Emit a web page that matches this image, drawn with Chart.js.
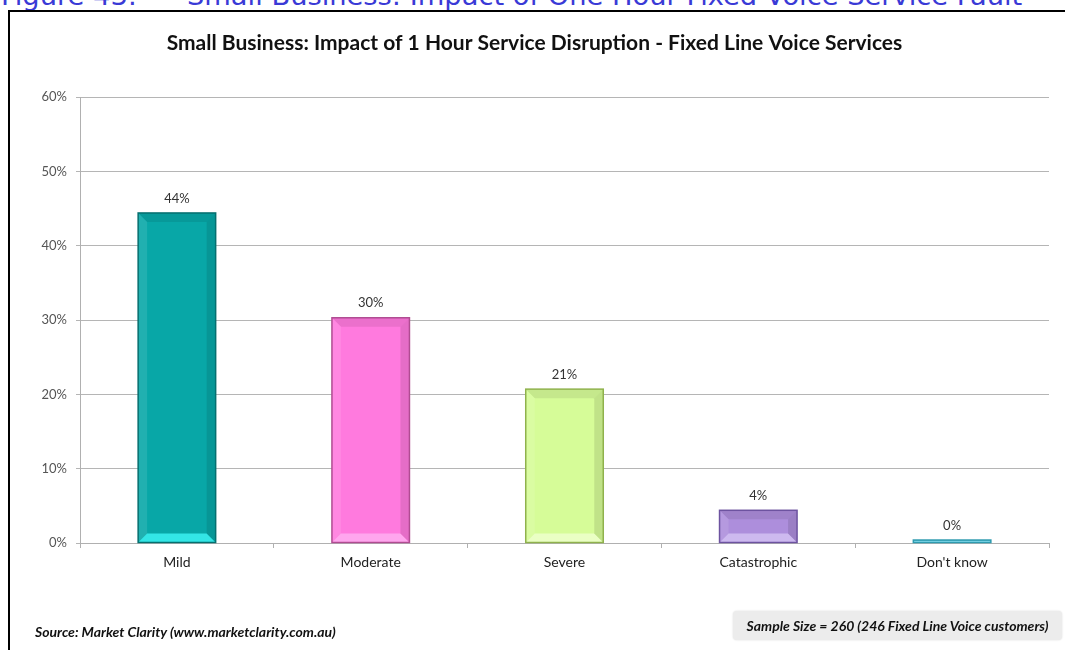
<!DOCTYPE html>
<html lang="en">

<head>
    <meta charset="UTF-8">
    <title>Small Business: Impact of 1 Hour Service Disruption</title>
    <style>
        body {
            margin: 0;
            padding: 0;
            background: #fff;
            width: 1065px;
            height: 650px;
            overflow: hidden;
            position: relative;
            font-family: Lato, "Open Sans", Arial, sans-serif;
        }

        #caption {
            position: absolute;
            left: 1px;
            top: -20px;
            white-space: pre;
            font-family: "DejaVu Sans", Verdana, sans-serif;
            font-size: 27.3px;
            line-height: 31px;
            color: #3a3ad6;
        }

        #caption span {
            margin-left: 50px;
        }

        #frame {
            position: absolute;
            left: 8px;
            top: 10px;
            width: 1100px;
            height: 700px;
            border: 2px solid #000;
        }

        #chartBox {
            position: absolute;
            left: 0;
            top: 0;
            width: 1065px;
            height: 650px;
        }

        #source {
            position: absolute;
            left: 35px;
            top: 623px;
            font-size: 14px;
            font-weight: bold;
            font-style: italic;
            color: #111;
        }

        #sample {
            position: absolute;
            left: 733px;
            top: 611px;
            width: 329px;
            height: 29px;
            line-height: 29px;
            background: #ececec;
            border-radius: 4px;
            box-shadow: 0 0 2px rgba(0, 0, 0, 0.15);
            text-align: center;
            font-size: 14px;
            font-weight: bold;
            font-style: italic;
            color: #111;
        }
    </style>
</head>

<body>
    <div id="caption">Figure 43:<span>Small Business: Impact of One Hour Fixed Voice Service Fault</span></div>
    <div id="frame"></div>
    <div id="chartBox"><canvas id="impactChart" width="1065" height="650"></canvas></div>
    <div id="source">Source: Market Clarity (www.marketclarity.com.au)</div>
    <div id="sample">Sample Size = 260 (246 Fixed Line Voice customers)</div>

    <script src="https://cdn.jsdelivr.net/npm/chart.js"></script>

    <script>
        // chart data
        const categories = ['Mild', 'Moderate', 'Severe', 'Catastrophic', "Don't know"];
        const impactPct = [44.4, 30.3, 20.7, 4.4, 0.4];
        const yTicks = [0, 10, 20, 30, 40, 50, 60];

        const fillColors = ['#08a7a7', '#ff7ade', '#d6fc98', '#ad8edc', '#5ccde4'];
        const edgeColors = ['#056f6f', '#b04c92', '#8fb24c', '#6d53a0', '#2f9bb0'];
        const lightColors = ['#33e6e6', '#ffa6ee', '#eaffc4', '#cdb9ef', '#9ae8f5'];

        // simple bevel look like the original office chart
        const bevelPlugin = {
            id: 'bevel',
            afterDatasetsDraw(chart) {
                const ctx = chart.ctx;
                const meta = chart.getDatasetMeta(0);
                meta.data.forEach((bar, i) => {
                    const l = bar.x - bar.width / 2;
                    const r = bar.x + bar.width / 2;
                    const t = bar.y;
                    const b = bar.base;
                    const h = b - t;
                    const bv = Math.min(9, h / 2);
                    ctx.save();
                    // top bevel, a bit darker
                    ctx.fillStyle = 'rgba(0,0,0,0.08)';
                    ctx.beginPath();
                    ctx.moveTo(l, t); ctx.lineTo(r, t);
                    ctx.lineTo(r - bv, t + bv); ctx.lineTo(l + bv, t + bv);
                    ctx.closePath(); ctx.fill();
                    // bottom bevel, light
                    ctx.fillStyle = lightColors[i];
                    ctx.beginPath();
                    ctx.moveTo(l, b); ctx.lineTo(r, b);
                    ctx.lineTo(r - bv, b - bv); ctx.lineTo(l + bv, b - bv);
                    ctx.closePath(); ctx.fill();
                    // side bevels
                    ctx.fillStyle = 'rgba(255,255,255,0.1)';
                    ctx.beginPath();
                    ctx.moveTo(l, t); ctx.lineTo(l + bv, t + bv);
                    ctx.lineTo(l + bv, b - bv); ctx.lineTo(l, b);
                    ctx.closePath(); ctx.fill();
                    ctx.fillStyle = 'rgba(0,0,0,0.1)';
                    ctx.beginPath();
                    ctx.moveTo(r, t); ctx.lineTo(r - bv, t + bv);
                    ctx.lineTo(r - bv, b - bv); ctx.lineTo(r, b);
                    ctx.closePath(); ctx.fill();
                    // outline
                    ctx.strokeStyle = edgeColors[i];
                    ctx.lineWidth = 1.5;
                    ctx.strokeRect(l, t, r - l, h);
                    ctx.restore();
                });
            }
        };

        // value labels above the bars
        const valueLabels = {
            id: 'valueLabels',
            afterDatasetsDraw(chart) {
                const ctx = chart.ctx;
                const meta = chart.getDatasetMeta(0);
                ctx.save();
                ctx.font = '13px Lato, "Open Sans", sans-serif';
                ctx.fillStyle = '#333';
                ctx.textAlign = 'center';
                ctx.textBaseline = 'bottom';
                meta.data.forEach((bar, i) => {
                    ctx.fillText(Math.round(impactPct[i]) + '%', bar.x, bar.y - 8);
                });
                ctx.restore();
            }
        };

        const ctx = document.getElementById('impactChart').getContext('2d');
        const impactChart = new Chart(ctx, {
            type: 'bar',
            data: {
                labels: categories,
                datasets: [{
                    data: impactPct,
                    backgroundColor: fillColors,
                    borderWidth: 0,
                    barPercentage: 0.4,
                    categoryPercentage: 1.0
                }]
            },
            options: {
                responsive: false,
                animation: false,
                layout: {
                    padding: { left: 20, right: 16, top: 26, bottom: 60 }
                },
                scales: {
                    x: {
                        afterFit: s => { s.height = 47; },
                        grid: {
                            display: true,
                            drawOnChartArea: false,
                            tickLength: 5,
                            color: '#b0b0b0'
                        },
                        border: { color: '#b0b0b0' },
                        ticks: {
                            padding: 6,
                            color: '#222',
                            font: { family: 'Lato, "Open Sans", sans-serif', size: 14 }
                        }
                    },
                    y: {
                        min: 0,
                        max: 60,
                        afterFit: s => { s.width = 60; },
                        afterBuildTicks: s => { s.ticks = yTicks.map(v => ({ value: v })); },
                        grid: {
                            color: '#b5b5b5',
                            tickLength: 4
                        },
                        border: { color: '#b0b0b0' },
                        ticks: {
                            padding: 9,
                            color: '#555',
                            font: { family: 'Lato, "Open Sans", sans-serif', size: 13 },
                            callback: v => v + '%'
                        }
                    }
                },
                plugins: {
                    legend: { display: false },
                    tooltip: { enabled: false },
                    title: {
                        display: true,
                        text: 'Small Business: Impact of 1 Hour Service Disruption - Fixed Line Voice Services',
                        color: '#111',
                        font: { family: 'Lato, "Open Sans", sans-serif', size: 21, weight: 'bold', lineHeight: 1.2 },
                        padding: { top: 5, bottom: 40.8 }
                    }
                }
            },
            plugins: [bevelPlugin, valueLabels]
        });
    </script>
</body>

</html>
